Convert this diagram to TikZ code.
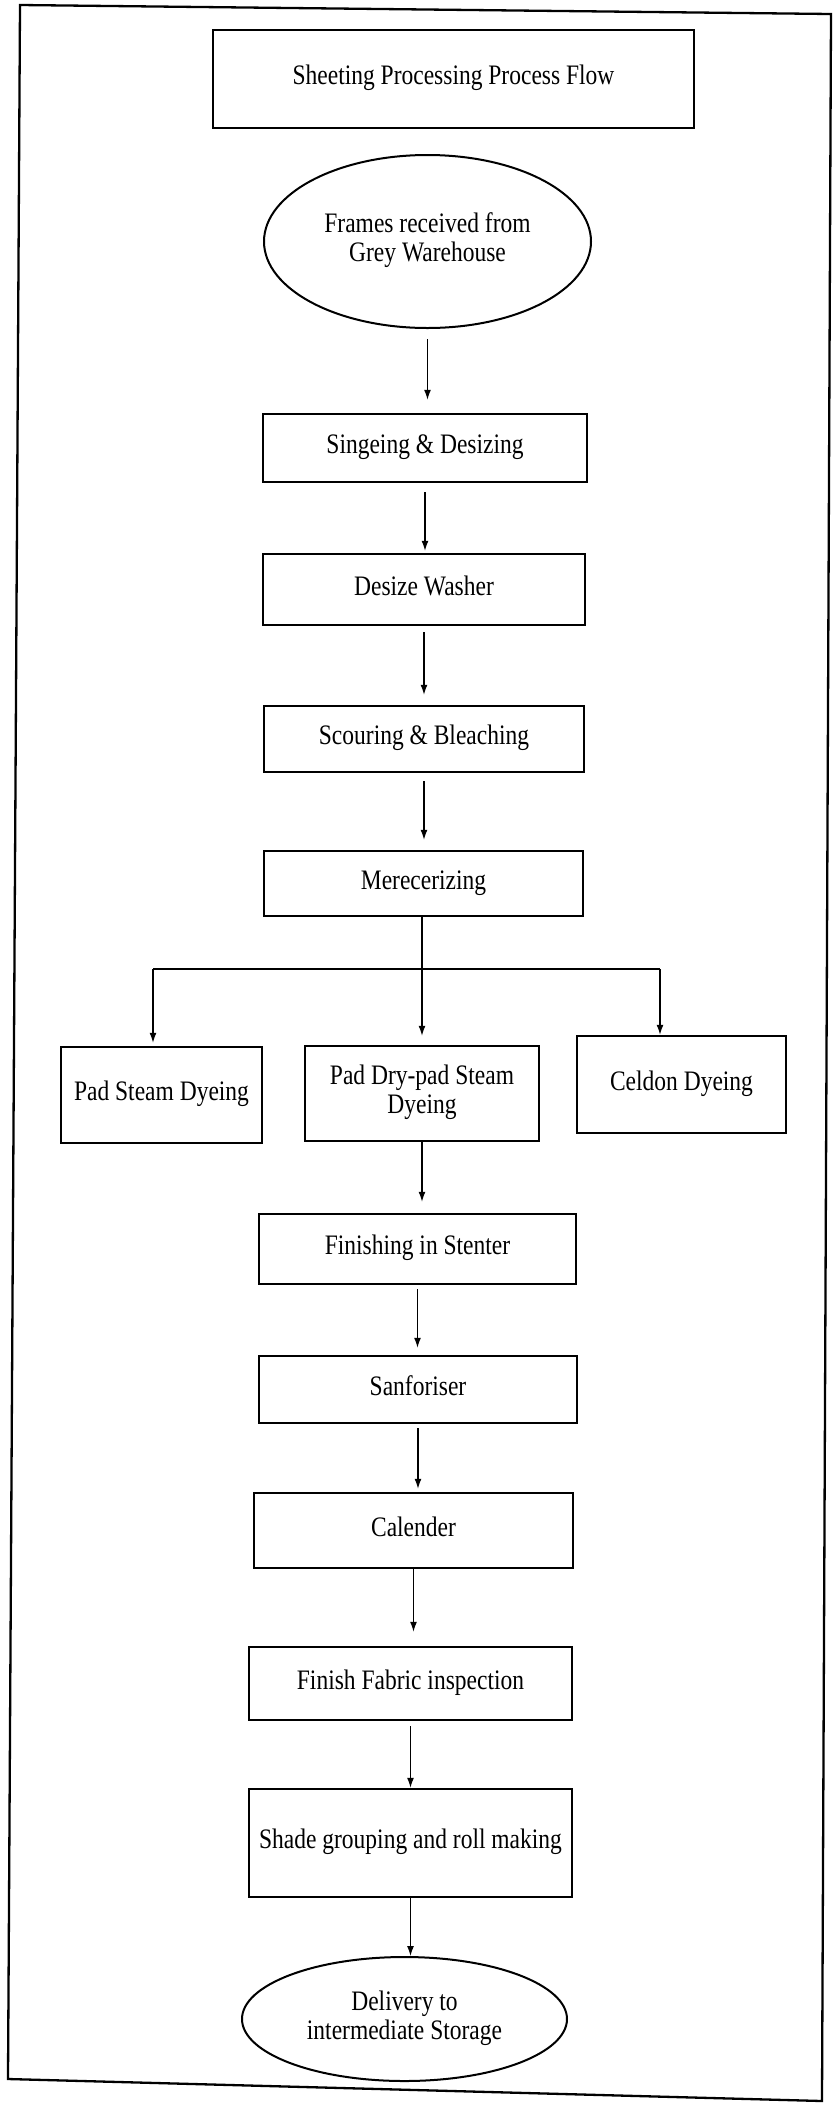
\documentclass[tikz,border=0pt]{standalone}
\usepackage{fontspec}
\usepackage{graphicx}
\setmainfont{Liberation Serif}
\usetikzlibrary{arrows.meta,shapes.geometric}
\newcommand{\tx}[1]{\scalebox{1}[1.2]{\begin{tabular}{@{}c@{}}#1\end{tabular}}}
\tikzset{
  box/.style={draw, line width=2.5pt, rectangle, inner sep=0pt, font=\fontsize{23.5}{24}\selectfont},
  oval/.style={draw, line width=2pt, ellipse, inner sep=0pt, font=\fontsize{23.5}{24}\selectfont},
  arr/.style={line width=1.3pt, -{Latex[length=10pt,width=7pt]}},
  ln/.style={line width=1.6pt},
  frame/.style={line width=2.3pt}
}
\begin{document}
\begin{tikzpicture}[x=1pt,y=-1pt]
\useasboundingbox (0,0) rectangle (834,2105);
\draw[frame] (20,5) -- (831,14) -- (822,2101) -- (8,2079) -- cycle;

\node[box, minimum width=481pt, minimum height=98pt] (title) at (453.5,79) {\tx{Sheeting Processing Process Flow}};
\node[oval, minimum width=327pt, minimum height=173pt] (frames) at (427.5,241.5) {\tx{Frames received from\\Grey Warehouse}};
\node[box, minimum width=324pt, minimum height=68pt] (sing) at (425,448) {\tx{Singeing \& Desizing}};
\node[box, minimum width=322pt, minimum height=71pt] (desz) at (424,589.5) {\tx{Desize Washer}};
\node[box, minimum width=320pt, minimum height=66pt] (scour) at (424,739) {\tx{Scouring \& Bleaching}};
\node[box, minimum width=319pt, minimum height=65pt] (merc) at (423.5,883.5) {\tx{Merecerizing}};
\node[box, minimum width=201pt, minimum height=96pt] (pst) at (161.5,1095) {\tx{Pad Steam Dyeing}};
\node[box, minimum width=234pt, minimum height=95pt] (pdp) at (422,1093.5) {\tx{Pad Dry-pad Steam\\Dyeing}};
\node[box, minimum width=209pt, minimum height=97pt] (celd) at (681.5,1084.5) {\tx{Celdon Dyeing}};
\node[box, minimum width=317pt, minimum height=70pt] (fin) at (417.5,1249) {\tx{Finishing in Stenter}};
\node[box, minimum width=318pt, minimum height=67pt] (sanf) at (418,1389.5) {\tx{Sanforiser}};
\node[box, minimum width=319pt, minimum height=75pt] (cal) at (413.5,1530.5) {\tx{Calender}};
\node[box, minimum width=323pt, minimum height=73pt] (ffi) at (410.5,1683.5) {\tx{Finish Fabric inspection}};
\node[box, minimum width=323pt, minimum height=108pt] (shade) at (410.5,1843) {\tx{Shade grouping and roll making}};
\node[oval, minimum width=325pt, minimum height=124pt] (deliv) at (404.5,2019) {\tx{Delivery to\\intermediate Storage}};

\draw[arr, shorten <=10pt, shorten >=13pt] (frames.south) -- (frames.south |- sing.north);
\draw[arr, shorten <=9pt, shorten >=2pt] (sing.south) -- (sing.south |- desz.north);
\draw[arr, shorten <=6pt, shorten >=10pt] (desz.south) -- (desz.south |- scour.north);
\draw[arr, shorten <=8pt, shorten >=10pt] (scour.south) -- (scour.south |- merc.north);

\coordinate (bl) at (153,969);
\coordinate (br) at (660,969);
\draw[ln] (bl) -- (br);
\draw[arr, shorten >=9pt] (merc.south -| pdp.north) -- (pdp.north);
\draw[arr, shorten >=3pt] (bl) -- (bl |- pst.north);
\draw[arr] (br) -- (br |- celd.north);

\draw[arr, shorten >=11pt] (pdp.south) -- (pdp.south |- fin.north);
\draw[arr, shorten <=4pt, shorten >=7pt] (fin.south) -- (fin.south |- sanf.north);
\draw[arr, shorten <=4pt, shorten >=3pt] (sanf.south) -- (sanf.south |- cal.north);
\draw[arr, shorten >=14pt] (cal.south) -- (cal.south |- ffi.north);
\draw[arr, shorten <=5pt] (ffi.south) -- (ffi.south |- shade.north);
\draw[arr] (shade.south) -- (shade.south |- deliv.north);
\end{tikzpicture}
\end{document}
